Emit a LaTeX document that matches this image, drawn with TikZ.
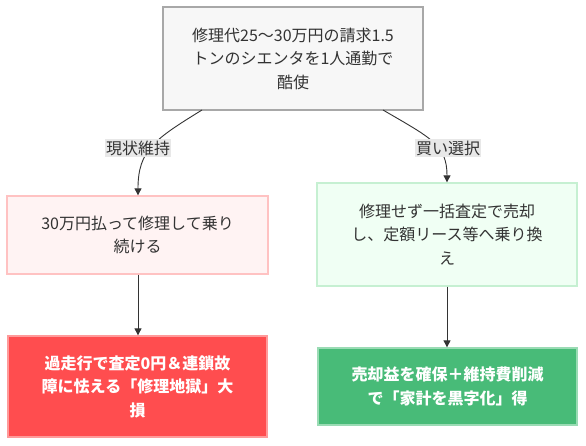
\documentclass[tikz,border=0pt]{standalone}
\usepackage{fontspec}
\setmainfont{Noto Sans CJK JP}
\newfontfamily\cjkbold{Noto Sans CJK JP}[BoldFont={* Bold}]
\usetikzlibrary{arrows.meta}
\definecolor{txt}{HTML}{333333}
\definecolor{topfill}{HTML}{F7F7F7}
\definecolor{topdraw}{HTML}{A8A8A8}
\definecolor{pinkfill}{HTML}{FFF3F3}
\definecolor{pinkdraw}{HTML}{FFC2C2}
\definecolor{mintfill}{HTML}{F0FFF4}
\definecolor{mintdraw}{HTML}{C6F0D2}
\definecolor{redfill}{HTML}{FF4D4F}
\definecolor{reddraw}{HTML}{FF9A9A}
\definecolor{greenfill}{HTML}{48BB78}
\definecolor{greendraw}{HTML}{9ADBB4}
\definecolor{lblfill}{HTML}{E8E8E8}
\tikzset{
  base/.style={rectangle, inner sep=0pt, align=center, text=txt, line width=1.3pt,
    font=\fontsize{16}{23.5}\selectfont},
  topbox/.style={base, fill=topfill, draw=topdraw},
  pinkbox/.style={base, fill=pinkfill, draw=pinkdraw},
  mintbox/.style={base, fill=mintfill, draw=mintdraw},
  redbox/.style={base, fill=redfill, draw=reddraw, text=white, font=\fontsize{16}{23.5}\selectfont\bfseries},
  greenbox/.style={base, fill=greenfill, draw=greendraw, text=white, font=\fontsize{16}{23.5}\selectfont\bfseries},
  elabel/.style={fill=lblfill, text=txt, inner xsep=1pt, inner ysep=2pt, font=\fontsize{16}{20}\selectfont},
  conn/.style={draw=txt, line width=0.9pt, -{Triangle[length=7pt,width=7pt]}},
}
\begin{document}
\begin{tikzpicture}[x=1pt,y=-1pt]
\useasboundingbox (0,0) rectangle (586,446);
\fill[white] (0,0) rectangle (586,446);
\node[topbox, minimum width=260pt, minimum height=103pt] (top) at (293,58.5)
  {修理代25〜30万円の請求1.5\\トンのシエンタを1人通勤で\\酷使};
\node[pinkbox, minimum width=261pt, minimum height=78pt] (lm) at (137.5,235)
  {30万円払って修理して乗り\\続ける};
\node[mintbox, minimum width=260pt, minimum height=103pt] (rm) at (447,234.5)
  {修理せず一括査定で売却\\し、定額リース等へ乗り換\\え};
\node[redbox, minimum width=259pt, minimum height=101pt] (lb) at (137.5,386.5)
  {過走行で査定0円＆連鎖故\\障に怯える「修理地獄」大\\損};
\node[greenbox, minimum width=259pt, minimum height=77pt] (rb) at (447.5,386.5)
  {売却益を確保＋維持費削減\\で「家計を黒字化」得};
\coordinate (ls) at (202,110);
\coordinate (rs) at (383,110);
\draw[conn] (ls) .. controls (155,139) and (138,150) .. (lm.north -| 138,0);
\draw[conn] (rs) .. controls (431,138) and (447,145) .. (rm.north -| 447,0);
\node[elabel] (l1) at (138,148) {現状維持};
\node[elabel] (l2) at (448,148) {買い選択};
\draw[conn] (lm.south -| 138,0) -- (lb.north -| 138,0);
\draw[conn] (rm.south -| 447,0) -- (rb.north -| 447,0);
\end{tikzpicture}
\end{document}
